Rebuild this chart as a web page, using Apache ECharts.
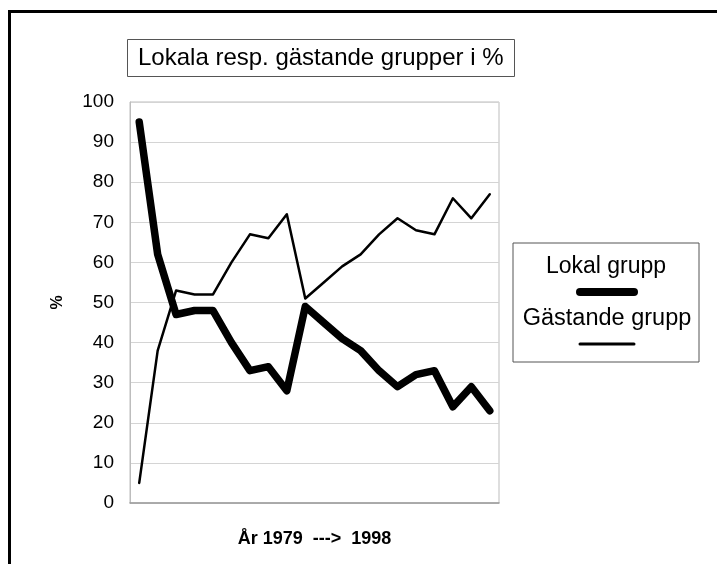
<!DOCTYPE html>
<html>
<head>
<meta charset="utf-8">
<script src="https://cdn.jsdelivr.net/npm/echarts@6/dist/echarts.min.js"></script>
<style>
html,body{margin:0;padding:0;background:#fff;}
#chart{width:717px;height:564px;}
</style>
</head>
<body>
<div id="chart"></div>
<script>
var titleText = "Lokala resp. gästande grupper i %";
var years = ["1979","1980","1981","1982","1983","1984","1985","1986","1987","1988","1989","1990","1991","1992","1993","1994","1995","1996","1997","1998"];
var seriesNames = ["Lokal grupp", "Gästande grupp"];
var lokal = [95, 62, 47, 48, 48, 40, 33, 34, 28, 49, 45, 41, 38, 33, 29, 32, 33, 24, 29, 23];
var gast = [5, 38, 53, 52, 52, 60, 67, 66, 72, 51, 55, 59, 62, 67, 71, 68, 67, 76, 71, 77];
var yTicks = [0, 10, 20, 30, 40, 50, 60, 70, 80, 90, 100];
var yName = "%";
var xName = "År 1979  --->  1998";

var FONT = "'Liberation Sans', Arial, sans-serif";
var chart = echarts.init(document.getElementById('chart'), null, {renderer: 'canvas'});
chart.setOption({
  backgroundColor: '#fff',
  animation: false,
  title: {
    text: titleText,
    left: 127, top: 39,
    padding: [7, 11, 7, 11],
    borderColor: '#555', borderWidth: 1,
    textStyle: {fontFamily: FONT, fontSize: 24, fontWeight: 'normal', color: '#000'}
  },
  grid: {left: 130, right: 218, top: 102, bottom: 61, show: true, borderColor: '#bdbdbd', borderWidth: 1},
  xAxis: {
    type: 'category',
    data: years,
    boundaryGap: true,
    axisLine: {show: true, lineStyle: {color: '#9a9a9a', width: 1.5}},
    axisTick: {show: false},
    axisLabel: {show: false},
    splitLine: {show: false},
    name: xName,
    nameLocation: 'middle',
    nameGap: 27,
    nameTextStyle: {fontFamily: FONT, fontSize: 18, fontWeight: 'bold', color: '#000', verticalAlign: 'top'}
  },
  yAxis: {
    type: 'value',
    min: yTicks[0], max: yTicks[yTicks.length - 1], interval: 10,
    axisLine: {show: true, lineStyle: {color: '#bdbdbd', width: 1}},
    axisTick: {show: false},
    axisLabel: {fontFamily: FONT, fontSize: 19, color: '#000', margin: 16},
    splitLine: {show: true, lineStyle: {color: '#d4d4d4', width: 1}},
    name: yName,
    nameLocation: 'middle',
    nameGap: 64,
    nameRotate: 90,
    nameTextStyle: {fontFamily: FONT, fontSize: 16, fontWeight: 'bold', color: '#000'}
  },
  series: [
    {name: seriesNames[0], type: 'line', data: lokal, showSymbol: false, symbol: 'none',
     lineStyle: {color: '#000', width: 7.5, cap: 'round', join: 'round'}, z: 3},
    {name: seriesNames[1], type: 'line', data: gast, showSymbol: false, symbol: 'none',
     lineStyle: {color: '#000', width: 2.5, cap: 'round', join: 'round'}, z: 2}
  ],
  graphic: [
    {type: 'rect', left: 7, top: 9, shape: {width: 800, height: 700},
     style: {fill: 'none', stroke: '#000', lineWidth: 3}, silent: true, z: 100},
    {type: 'rect', shape: {x: 513, y: 243, width: 186, height: 119},
     style: {fill: '#fff', stroke: '#555', lineWidth: 1}, z: 100},
    {type: 'text', x: 606, y: 267, style: {text: seriesNames[0], fontFamily: FONT, fontSize: 23, fill: '#000', textAlign: 'center', textVerticalAlign: 'middle'}, z: 101},
    {type: 'line', shape: {x1: 580, y1: 292, x2: 634, y2: 292}, style: {stroke: '#000', lineWidth: 8, lineCap: 'round'}, z: 101},
    {type: 'text', x: 607, y: 319, style: {text: seriesNames[1], fontFamily: FONT, fontSize: 23.5, fill: '#000', textAlign: 'center', textVerticalAlign: 'middle'}, z: 101},
    {type: 'line', shape: {x1: 580, y1: 344, x2: 634, y2: 344}, style: {stroke: '#000', lineWidth: 3, lineCap: 'round'}, z: 101}
  ]
});
</script>
</body>
</html>
